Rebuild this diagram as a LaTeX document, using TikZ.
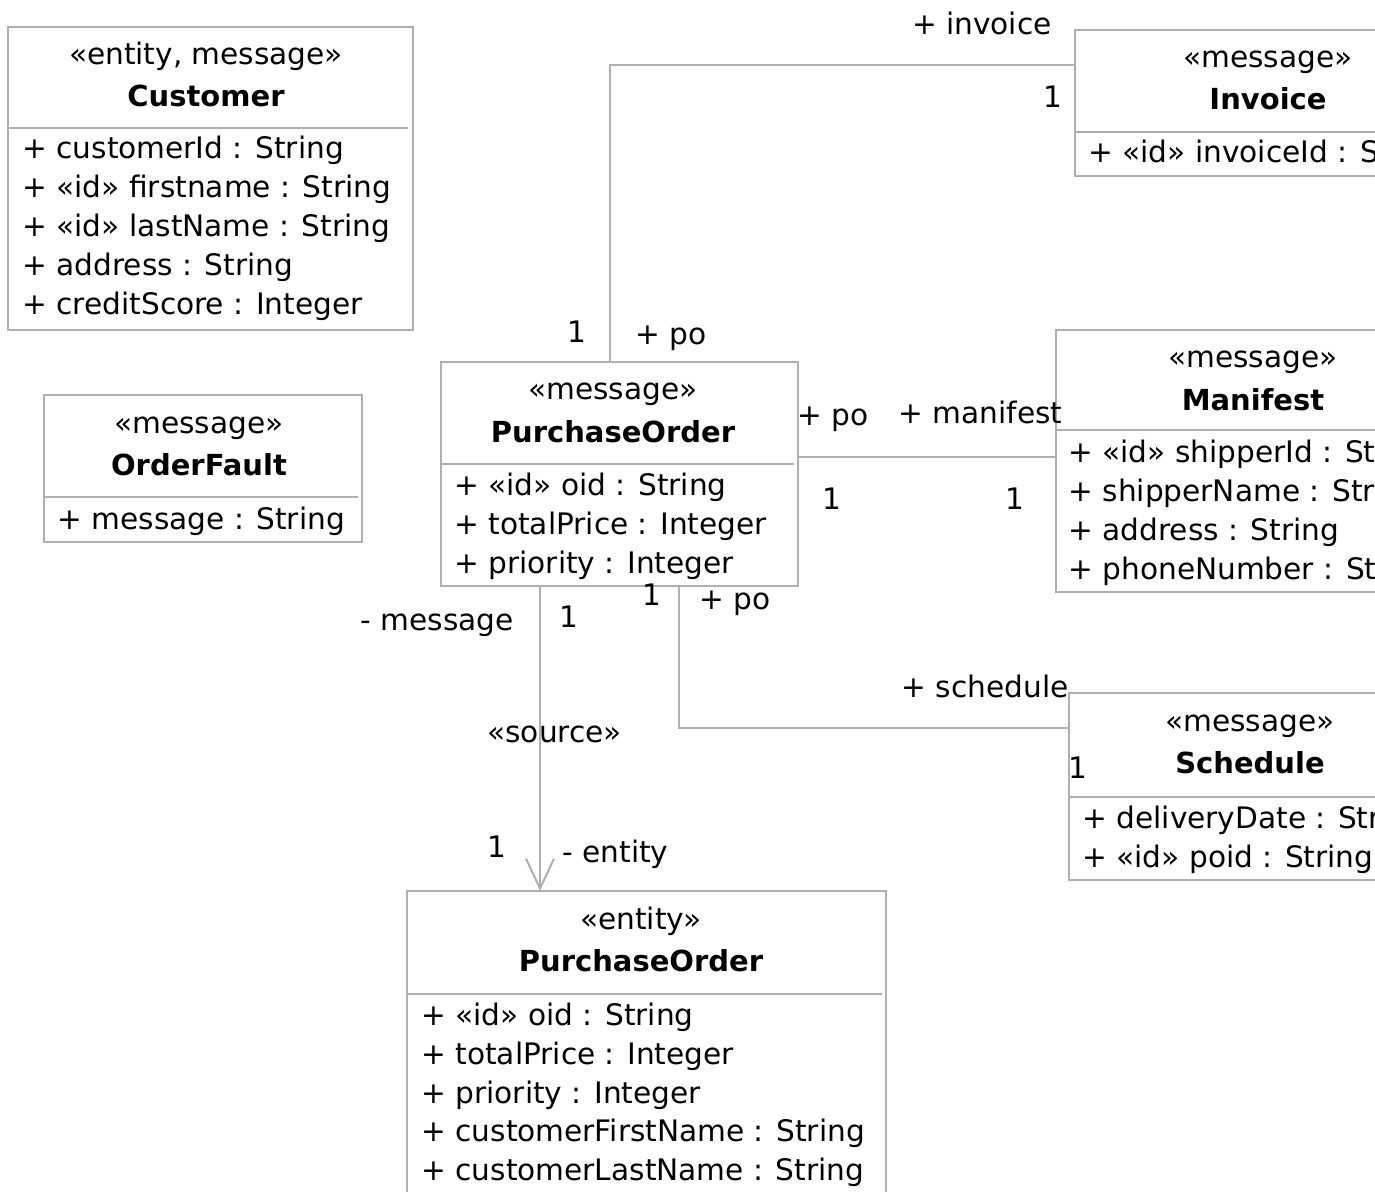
\documentclass[tikz,border=0pt]{standalone}
\usepackage{fontspec}
\setmainfont{DejaVu Sans}
\usetikzlibrary{arrows.meta}
\definecolor{linegray}{RGB}{175,175,175}
\tikzset{
  cls/.style={draw=linegray, line width=1pt, anchor=north west, inner sep=0pt, outer sep=0pt, fill=white},
  txt/.style={font=\fontsize{14.8}{18}\selectfont, inner sep=0pt, text=black},
  attr/.style={txt, anchor=base west},
  hdr/.style={txt, anchor=base},
  cname/.style={txt, anchor=base, font=\fontsize{14.5}{18}\selectfont\bfseries},
  lbl/.style={txt, anchor=base west},
  lblr/.style={txt, anchor=base east},
  assoc/.style={draw=linegray, line width=1pt},
  dep/.style={assoc, -{Straight Barb[length=15pt,width=14pt,line width=1pt]}},
  divider/.style={draw=linegray, line width=1pt}
}
\begin{document}
\begin{tikzpicture}[x=0.5pt,y=-0.5pt]
\useasboundingbox (0,0) rectangle (1375,1192);
\clip (0,0) rectangle (1375,1192);

% ---------- class boxes ----------
\node[cls, minimum width=202.5pt, minimum height=151.5pt] (cust) at (8,27) {};
\node[cls, minimum width=159pt, minimum height=73.5pt] (fault) at (44,395) {};
\node[cls, minimum width=200pt, minimum height=73pt] (inv) at (1075,30) {};
\node[cls, minimum width=200pt, minimum height=131pt] (man) at (1056,330) {};
\node[cls, minimum width=200pt, minimum height=93.5pt] (sch) at (1069,693) {};
\node[cls, minimum width=178.5pt, minimum height=112pt] (pom) at (441,362) {};
\node[cls, minimum width=239.5pt, minimum height=170pt] (ent) at (407,891) {};

% ---------- dividers ----------
\draw[divider] (cust.west |- 0,128) -- (408,128);
\draw[divider] (fault.west |- 0,497) -- (358,497);
\draw[divider] (inv.west |- 0,132) -- (1400,132);
\draw[divider] (man.west |- 0,430) -- (1400,430);
\draw[divider] (sch.west |- 0,797) -- (1400,797);
\draw[divider] (pom.west |- 0,464) -- (794,464);
\draw[divider] (ent.west |- 0,994) -- (882,994);

% ---------- Customer ----------
\node[hdr] (custst) at (206,65) {«entity, message»};
\node[cname] (custnm) at (206,107) {Customer};
\node[attr] (cust1) at (22,159) {+ customerId : String};
\node[attr] (cust2) at (22,198) {+ «id» firstname : String};
\node[attr] (cust3) at (22,237) {+ «id» lastName : String};
\node[attr] (cust4) at (22,276) {+ address : String};
\node[attr] (cust5) at (22,315) {+ creditScore : Integer};

% ---------- OrderFault ----------
\node[hdr] (faultst) at (199,433) {«message»};
\node[cname] (faultnm) at (199,475) {OrderFault};
\node[attr] (fault1) at (57,529) {+ message : String};

% ---------- Invoice ----------
\node[hdr] (invst) at (1268,68) {«message»};
\node[cname] (invnm) at (1268,110) {Invoice};
\node[attr] (inv1) at (1088,163) {+ «id» invoiceId : String};

% ---------- Manifest ----------
\node[hdr] (manst) at (1253,368) {«message»};
\node[cname] (mannm) at (1253,410) {Manifest};
\node[attr] (man1) at (1068,462) {+ «id» shipperId : String};
\node[attr] (man2) at (1068,501) {+ shipperName : String};
\node[attr] (man3) at (1068,540) {+ address : String};
\node[attr] (man4) at (1068,579) {+ phoneNumber : String};

% ---------- Schedule ----------
\node[hdr] (schst) at (1250,731) {«message»};
\node[cname] (schnm) at (1250,773) {Schedule};
\node[attr] (sch1) at (1082,828) {+ deliveryDate : String};
\node[attr] (sch2) at (1082,867) {+ «id» poid : String};

% ---------- PurchaseOrder (message) ----------
\node[hdr] (pomst) at (613,400) {«message»};
\node[cname] (pomnm) at (613,442) {PurchaseOrder};
\node[attr] (pom1) at (454,495) {+ «id» oid : String};
\node[attr] (pom2) at (454,534) {+ totalPrice : Integer};
\node[attr] (pom3) at (454,573) {+ priority : Integer};

% ---------- PurchaseOrder (entity) ----------
\node[hdr] (entst) at (641,929) {«entity»};
\node[cname] (entnm) at (641,971) {PurchaseOrder};
\node[attr] (ent1) at (421,1025) {+ «id» oid : String};
\node[attr] (ent2) at (421,1064) {+ totalPrice : Integer};
\node[attr] (ent3) at (421,1103) {+ priority : Integer};
\node[attr] (ent4) at (421,1141) {+ customerFirstName : String};
\node[attr] (ent5) at (421,1180) {+ customerLastName : String};

% ---------- connectors ----------
\draw[assoc] (610,0 |- pom.north) |- (inv.west |- 0,65);
\draw[assoc] (pom.east |- 0,457) -- (man.west |- 0,457);
\draw[assoc] (679,0 |- pom.south) |- (sch.west |- 0,728);
\draw[dep] (540,0 |- pom.south) -- (540,0 |- ent.north);

% ---------- connector labels ----------
\node[lblr] (l1) at (1052,35) {+ invoice};
\node[lbl] (l2) at (1043,108) {1};
\node[lbl] (l3) at (567,343) {1};
\node[lbl] (l4) at (635,345) {+ po};
\node[lbl] (l5) at (797,425) {+ po};
\node[lblr] (l6) at (1063,423) {+ manifest};
\node[lbl] (l7) at (822,509) {1};
\node[lbl] (l8) at (1005,509) {1};
\node[lbl] (l9) at (642,605) {1};
\node[lbl] (l10) at (699,609) {+ po};
\node[lblr] (l11) at (1069,697) {+ schedule};
\node[lbl] (l12) at (1068,778) {1};
\node[lblr] (l13) at (514,630) {- message};
\node[lbl] (l14) at (559,627) {1};
\node[lbl] (l15) at (487,742) {«source»};
\node[lbl] (l16) at (487,857) {1};
\node[lbl] (l17) at (562,862) {- entity};
\end{tikzpicture}
\end{document}
